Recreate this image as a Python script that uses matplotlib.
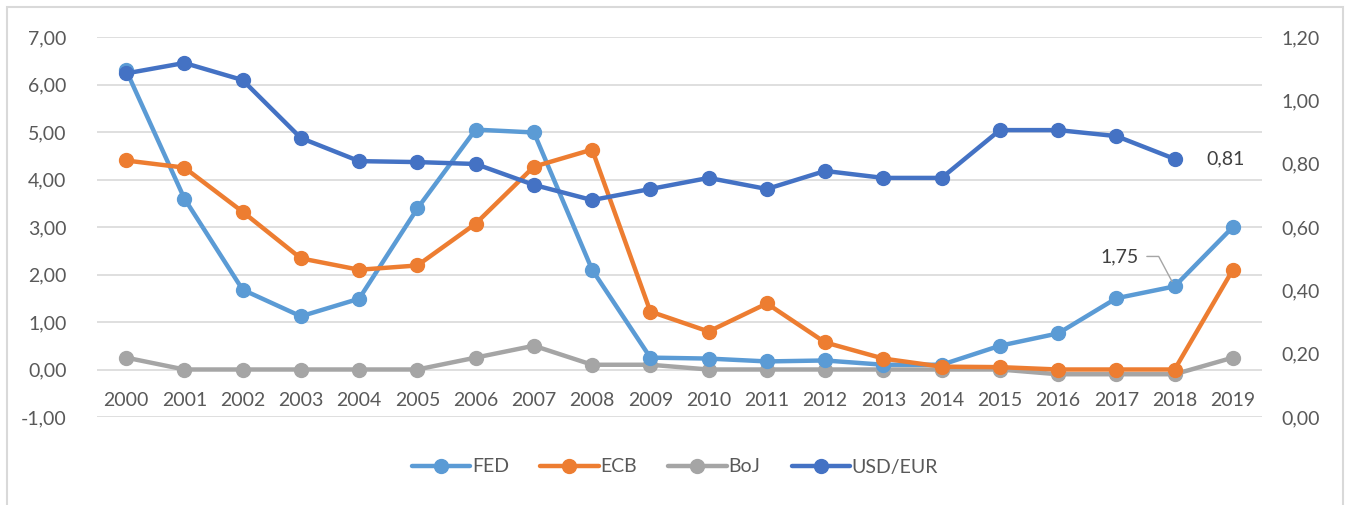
import matplotlib.pyplot as plt
from matplotlib.patches import Rectangle
import numpy as np

# data
years = [str(y) for y in range(2000, 2020)]
fed = [6.30, 3.60, 1.68, 1.12, 1.49, 3.39, 5.05, 4.99, 2.10, 0.25,
       0.23, 0.17, 0.19, 0.10, 0.10, 0.50, 0.76, 1.50, 1.75, 3.00]
ecb = [4.40, 4.25, 3.32, 2.34, 2.10, 2.19, 3.07, 4.27, 4.63, 1.22,
       0.80, 1.39, 0.57, 0.23, 0.06, 0.05, 0.00, 0.00, 0.00, 2.10]
boj = [0.25, 0.00, 0.00, 0.00, 0.00, 0.00, 0.25, 0.50, 0.10, 0.10,
       0.00, 0.00, 0.00, 0.00, 0.00, 0.00, -0.10, -0.10, -0.10, 0.25]
usd_eur = [1.085, 1.118, 1.064, 0.881, 0.808, 0.805, 0.799, 0.733, 0.685, 0.720,
           0.755, 0.720, 0.777, 0.755, 0.755, 0.906, 0.906, 0.887, 0.815, np.nan]
left_ticks = np.arange(-1, 8, 1)
right_ticks = np.arange(0, 1.21, 0.2)

plt.rcParams['font.family'] = ['Lato', 'DejaVu Sans']

c_fed = '#5B9BD5'
c_ecb = '#ED7D31'
c_boj = '#A5A5A5'
c_usd = '#4472C4'
txt = '#595959'
fs = 14

fig = plt.figure(figsize=(13.5, 5.05), dpi=100)
fig.patches.append(Rectangle((7/1350, -0.1), 1336/1350, 1.1 - 7/505,
                             transform=fig.transFigure, fill=False,
                             edgecolor='#D9D9D9', linewidth=1.5))

ax = fig.add_axes([97/1350, 1 - 417/505, (1262 - 97)/1350, 380/505])
ax2 = ax.twinx()

x = np.arange(len(years))
kw = dict(linewidth=3.2, marker='o', markersize=10, solid_capstyle='round')
l1, = ax.plot(x, fed, color=c_fed, label='FED', zorder=3, **kw)
l2, = ax.plot(x, ecb, color=c_ecb, label='ECB', zorder=3, **kw)
l3, = ax.plot(x, boj, color=c_boj, label='BoJ', zorder=2, **kw)
l4, = ax2.plot(x, usd_eur, color=c_usd, label='USD/EUR', zorder=3, **kw)

ax.set_ylim(-1, 7)
ax2.set_ylim(0, 1.2)
ax.set_xlim(-0.5, len(years) - 0.5)
ax.set_yticks(left_ticks)
ax.set_yticklabels([f'{v:.2f}'.replace('.', ',') for v in left_ticks])
ax2.set_yticks(right_ticks)
ax2.set_yticklabels([f'{v:.2f}'.replace('.', ',') for v in right_ticks])

ax.grid(axis='y', color='#D9D9D9', linewidth=1.2)
ax.set_axisbelow(True)
for a in (ax, ax2):
    for s in a.spines.values():
        s.set_visible(False)
    a.tick_params(length=0, labelsize=fs, labelcolor=txt)
ax.tick_params(axis='y', pad=22)
ax2.tick_params(axis='y', pad=14)

# category labels sit under the zero line
ax.set_xticks([])
for i, yr in enumerate(years):
    ax.text(i, -0.66, yr, ha='center', va='center', fontsize=fs, color=txt)

# data labels
ax2.annotate('0,81', xy=(18, usd_eur[18]), xytext=(18.55, usd_eur[18]),
             ha='left', va='center', fontsize=fs, color='#404040')
ax.annotate('1,75', xy=(18, fed[18]), xytext=(17.38, 2.38),
            ha='right', va='center', fontsize=fs, color='#404040',
            arrowprops=dict(arrowstyle='-', color='#A5A5A5', linewidth=1,
                            connectionstyle='angle,angleA=0,angleB=118,rad=0',
                            shrinkA=4, shrinkB=4))

fig.legend(handles=[l1, l2, l3, l4], loc='center', bbox_to_anchor=(0.5, 1 - 467/505),
           ncol=4, frameon=False, fontsize=fs, labelcolor=txt,
           handlelength=3.0, columnspacing=1.6, handletextpad=0.1)

fig.savefig('out.png', dpi=100)
